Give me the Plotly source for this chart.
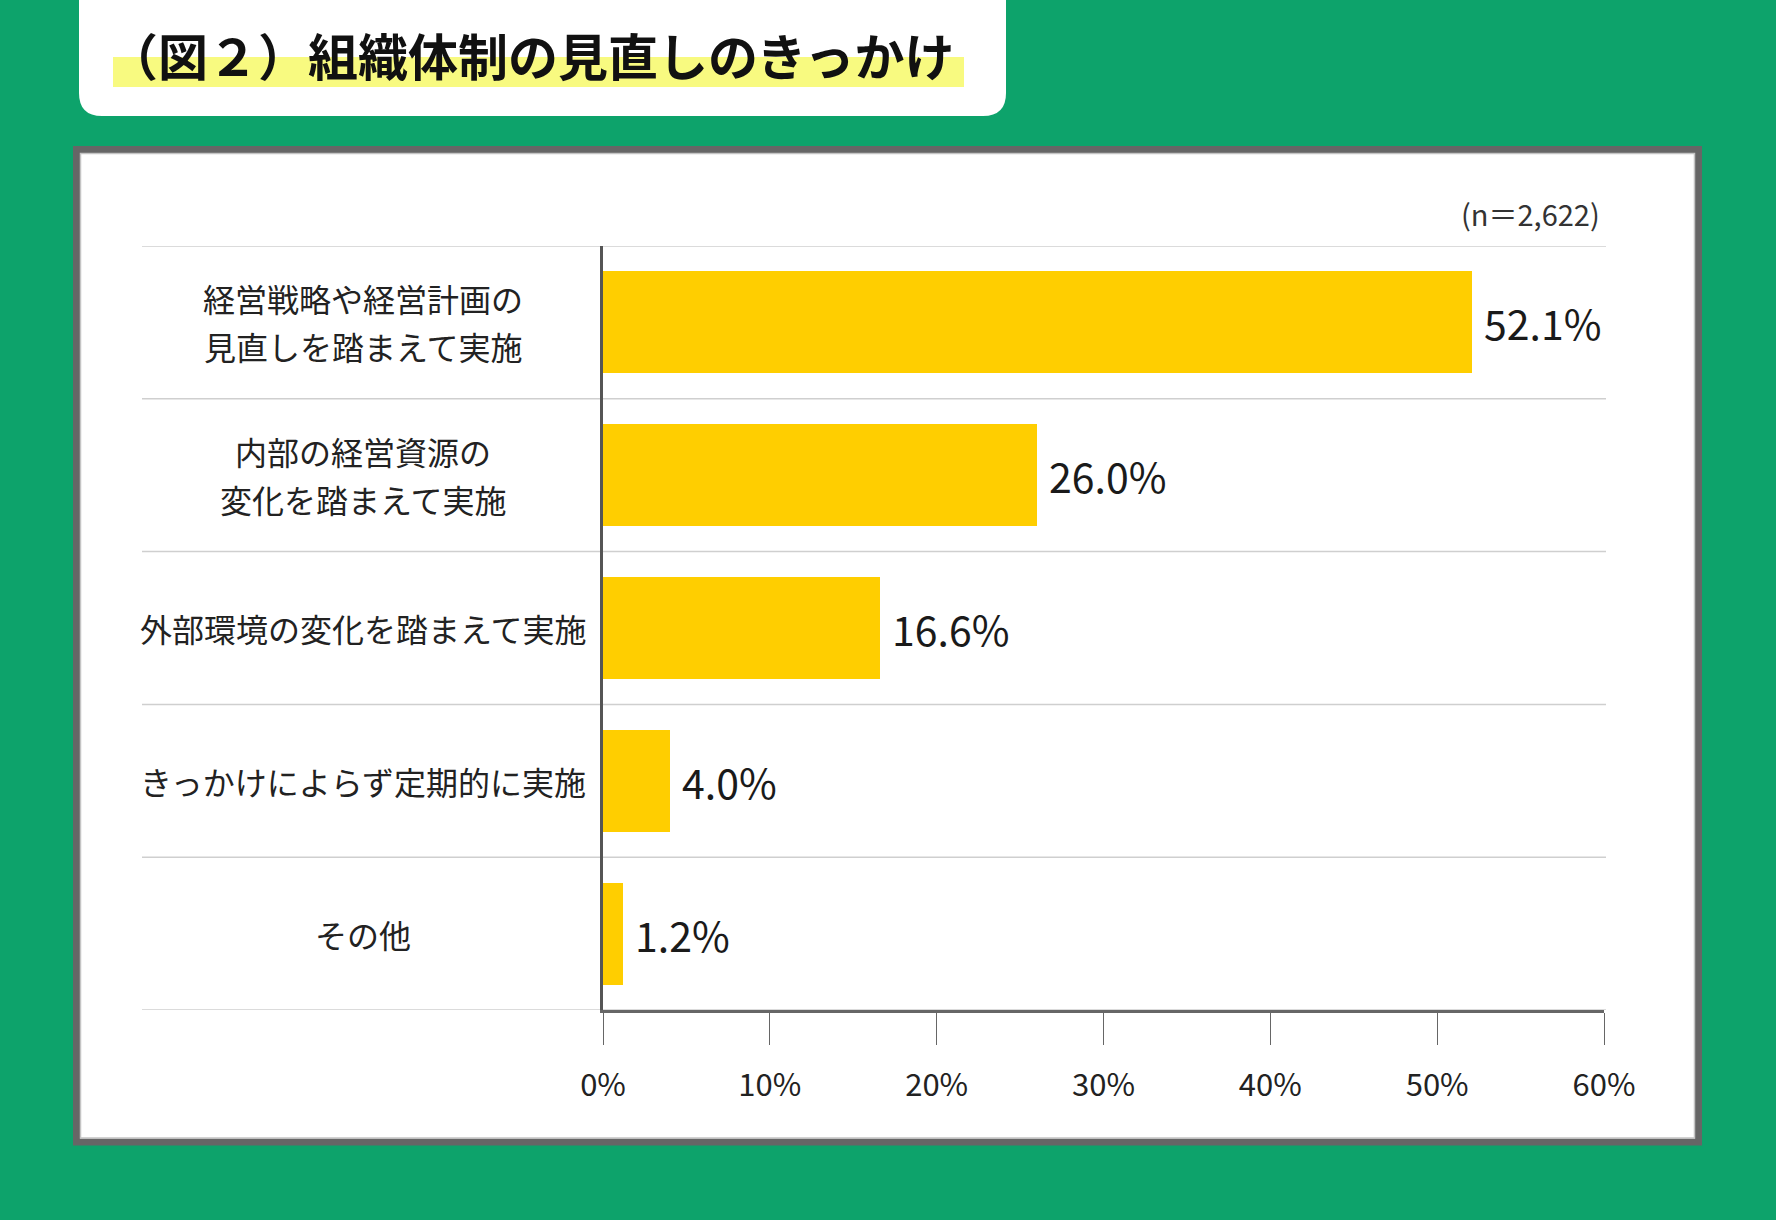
import plotly.graph_objects as go

# ---- data ----
categories = [
    "経営戦略や経営計画の<br>見直しを踏まえて実施",
    "内部の経営資源の<br>変化を踏まえて実施",
    "外部環境の変化を踏まえて実施",
    "きっかけによらず定期的に実施",
    "その他",
]
values = [52.1, 26.0, 16.6, 4.0, 1.2]
value_labels = ["52.1%", "26.0%", "16.6%", "4.0%", "1.2%"]
x_ticks = [0, 10, 20, 30, 40, 50, 60]
x_tick_labels = ["0%", "10%", "20%", "30%", "40%", "50%", "60%"]
title_text = "（図２）組織体制の見直しのきっかけ"
n_note = "(n＝2,622)"

W, H = 1776, 1220
GREEN = "#0DA36B"
BAR = "#FFCE00"
FONT = "Noto Sans CJK JP"


def px(x):
    return x / W


def py(y):
    return 1 - y / H


plot_left, plot_right = 603, 1604
plot_top, plot_bottom = 246, 1010

fig = go.Figure()
fig.add_trace(go.Bar(
    x=values, y=categories, orientation="h",
    marker=dict(color=BAR, line=dict(width=0)),
    width=0.667, hoverinfo="skip",
))

shapes = []
# chart box
shapes.append(dict(type="rect", xref="paper", yref="paper",
                   x0=px(76.5), x1=px(1698.5), y0=py(149.5), y1=py(1142),
                   fillcolor="white", line=dict(color="#666666", width=7), layer="below"))
shapes.append(dict(type="rect", xref="paper", yref="paper",
                   x0=px(80.5), x1=px(1694.5), y0=py(153.5), y1=py(1138),
                   fillcolor="rgba(0,0,0,0)", line=dict(color="#C4C4C4", width=1.5),
                   layer="below"))
# title box with rounded bottom corners
x0, x1, yt, yb = px(79), px(1006), py(-30), py(116)
rx, ry = 23 / W, 23 / H
path = (f"M {x0},{yt} L {x0},{yb + ry} Q {x0},{yb} {x0 + rx},{yb} "
        f"L {x1 - rx},{yb} Q {x1},{yb} {x1},{yb + ry} L {x1},{yt} Z")
shapes.append(dict(type="path", xref="paper", yref="paper", path=path,
                   fillcolor="white", line=dict(width=0), layer="below"))
# highlight under title
shapes.append(dict(type="rect", xref="paper", yref="paper",
                   x0=px(113), x1=px(964), y0=py(57), y1=py(87),
                   fillcolor="#F8FA80", line=dict(width=0), layer="below"))
# row separators
for k in range(len(categories) + 1):
    shapes.append(dict(type="line", xref="paper", yref="y",
                       x0=px(142), x1=px(1606), y0=k - 0.5, y1=k - 0.5,
                       line=dict(color="#CFCFCF", width=1.5), layer="below"))

annotations = []
annotations.append(dict(text=title_text, xref="paper", yref="paper",
                        x=px(106), y=py(54), xanchor="left", yanchor="middle",
                        showarrow=False,
                        font=dict(family=FONT, size=50, color="#111111", weight="bold")))
annotations.append(dict(text=n_note, xref="paper", yref="paper",
                        x=px(1602), y=py(213), xanchor="right", yanchor="middle",
                        showarrow=False, font=dict(family=FONT, size=29, color="#333333")))
LINE_GAP = 48
for cat in categories:
    lines = cat.split("<br>")
    nl = len(lines)
    for i, line in enumerate(lines):
        annotations.append(dict(text=line, xref="paper", yref="y", x=px(363), y=cat,
                                xanchor="center", yanchor="middle",
                                yshift=((nl - 1) / 2 - i) * LINE_GAP,
                                showarrow=False,
                                font=dict(family=FONT, size=32, color="#222222")))
for cat, v, lab in zip(categories, values, value_labels):
    annotations.append(dict(text=lab, xref="x", yref="y", x=v, y=cat,
                            xanchor="left", yanchor="middle", xshift=10,
                            showarrow=False,
                            font=dict(family=FONT, size=41, color="#1A1A1A")))

fig.update_layout(
    width=W, height=H,
    margin=dict(l=0, r=0, t=0, b=0, pad=0, autoexpand=False),
    paper_bgcolor=GREEN, plot_bgcolor="rgba(0,0,0,0)",
    showlegend=False, bargap=0,
    shapes=shapes, annotations=annotations,
    xaxis=dict(domain=[px(plot_left), px(plot_right)], range=[0, 60],
               tickvals=x_ticks, ticktext=x_tick_labels, automargin=False,
               showgrid=False, zeroline=False,
               showline=True, linecolor="#666666", linewidth=3,
               ticks="outside", ticklen=32, tickwidth=1.2, tickcolor="#666666",
               ticklabelstandoff=14,
               tickfont=dict(family=FONT, size=31, color="#222222"),
               fixedrange=True),
    yaxis=dict(domain=[py(plot_bottom), py(plot_top)], type="category",
               categoryorder="array", categoryarray=categories,
               range=[len(categories) - 0.5, -0.5], automargin=False,
               showticklabels=False, ticks="", showgrid=False, zeroline=False,
               showline=True, linecolor="#555555", linewidth=2.5,
               fixedrange=True),
)

fig.write_html("out.html", config={"displayModeBar": False},
               post_script="document.body.style.margin='0px';document.body.style.overflow='hidden';")
